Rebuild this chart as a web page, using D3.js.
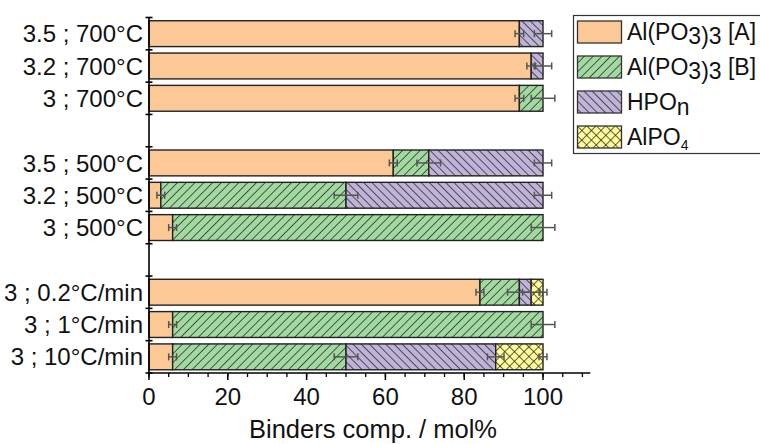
<!DOCTYPE html>
<html><head><meta charset="utf-8">
<script src="https://cdn.jsdelivr.net/npm/d3@7"></script>
<style>
html,body{margin:0;padding:0;background:#fff;}
text{font-family:"Liberation Sans",Arial,sans-serif;fill:#111;}
</style></head>
<body><svg id="c" width="760" height="444"></svg>
<script>
// ---- data ----
const categories = ["3.5 ; 700°C","3.2 ; 700°C","3 ; 700°C","gap1","3.5 ; 500°C","3.2 ; 500°C","3 ; 500°C","gap2","3 ; 0.2°C/min","3 ; 1°C/min","3 ; 10°C/min"];
const seriesNames = ["A","B","H","P"];
const valA = [94, 97, 94, null, 62, 3, 6, null, 84, 6, 6];
const valB = [0, 0, 6, null, 9, 47, 94, null, 10, 94, 44];
const valH = [6, 3, 0, null, 29, 50, 0, null, 3, 0, 38];
const valP = [0, 0, 0, null, 0, 0, 0, null, 3, 0, 12];
const errA = [1.1, 1.1, 1.1, null, 1, 1, 1, null, 1, 1, 1];
const errB = [0, 0, 3, null, 3, 3, 3, null, 3, 3, 3];
const errH = [2.2, 2.2, 0, null, 2.2, 2.2, 0, null, 2.2, 0, 2.1];
const errP = [0, 0, 0, null, 0, 0, 0, null, 1, 0, 1];
const xTicks = [0, 20, 40, 60, 80, 100];
const xMinor = d3.range(0, 111, 5);
const xTitle = "Binders comp. / mol%";

const svg = d3.select("#c");
const x = d3.scaleLinear().domain([0, 112]).range([149, 590.3]);
const y = d3.scaleBand().domain(categories).range([17.5, 373]).paddingInner(0.2).paddingOuter(0.1);
const step = y.step();

const defs = svg.append("defs");
function hatch(id, bg, rot, cross, size){
  const p = defs.append("pattern").attr("id", id).attr("patternUnits","userSpaceOnUse")
    .attr("width", size).attr("height", size).attr("patternTransform", `rotate(${rot})`);
  p.append("rect").attr("width", size).attr("height", size).attr("fill", bg);
  p.append("line").attr("x1",0).attr("y1",0).attr("x2",0).attr("y2",size).attr("stroke","#111").attr("stroke-width",1.3);
  if(cross) p.append("line").attr("x1",0).attr("y1",0).attr("x2",size).attr("y2",0).attr("stroke","#111").attr("stroke-width",1.3);
}
hatch("pB", "#a2d9a0", 45, false, 6.2);
hatch("pH", "#bfb3d8", -45, false, 5.8);
hatch("pP", "#fffb99", 45, true, 6.8);
const fills = {A:"#fbc896", B:"url(#pB)", H:"url(#pH)", P:"url(#pP)"};

const vals = {A:valA, B:valB, H:valH, P:valP};
const errs = {A:errA, B:errB, H:errH, P:errP};

const g = svg.append("g");
categories.forEach((c, i) => {
  if (valA[i] === null) return;
  let cum = 0;
  seriesNames.forEach(s => {
    const v = vals[s][i];
    if (v > 0) {
      g.append("rect").attr("x", x(cum)).attr("y", y(c)).attr("width", x(cum+v)-x(cum)).attr("height", y.bandwidth())
        .attr("fill", fills[s]).attr("stroke", "#222").attr("stroke-width", 1.4);
    }
    cum += v;
  });
});
// error bars
const eg = svg.append("g").attr("stroke","#555").attr("stroke-width",1.5).attr("fill","none");
categories.forEach((c, i) => {
  if (valA[i] === null) return;
  let cum = 0;
  seriesNames.forEach(s => {
    const v = vals[s][i];
    cum += v;
    const e = errs[s][i];
    if (v > 0 && e > 0) {
      const cy = y(c) + y.bandwidth()/2;
      eg.append("line").attr("x1", x(cum-e)).attr("x2", x(cum+e)).attr("y1", cy).attr("y2", cy);
      eg.append("line").attr("x1", x(cum-e)).attr("x2", x(cum-e)).attr("y1", cy-3.5).attr("y2", cy+3.5);
      eg.append("line").attr("x1", x(cum+e)).attr("x2", x(cum+e)).attr("y1", cy-3.5).attr("y2", cy+3.5);
    }
  });
});

// y axis
const ya = svg.append("g").attr("stroke","#000").attr("stroke-width",1.6);
const r = y.range();
ya.append("line").attr("x1", x(0)).attr("x2", x(0)).attr("y1", r[0]).attr("y2", r[1]);
d3.range(0, categories.length + 1).forEach(k => {
  const ty = r[0] + k*step;
  ya.append("line").attr("x1", x(0)-3.5).attr("x2", x(0)+3.5).attr("y1", ty).attr("y2", ty);
});
svg.append("g").selectAll("text").data(categories.filter(c => !c.startsWith("gap"))).join("text")
  .attr("x", 143).attr("y", c => y(c) + y.bandwidth()/2).attr("dy", "0.36em")
  .attr("text-anchor","end").attr("font-size", 24).text(c => c);

// x axis
const xa = svg.append("g").attr("transform", `translate(0,${r[1]})`);
xa.append("line").attr("x1", x.range()[0]).attr("x2", x.range()[1]).attr("stroke","#000").attr("stroke-width",1.6);
xa.selectAll("line.mn").data(xMinor).join("line").attr("class","mn")
  .attr("x1", d=>x(d)).attr("x2", d=>x(d)).attr("y1", 0).attr("y2", 4).attr("stroke","#000").attr("stroke-width",1.3);
xa.selectAll("line.mj").data(xTicks).join("line").attr("class","mj")
  .attr("x1", d=>x(d)).attr("x2", d=>x(d)).attr("y1", 0).attr("y2", 7).attr("stroke","#000").attr("stroke-width",1.5);
xa.selectAll("text").data(xTicks).join("text")
  .attr("x", d=>x(d)).attr("y", 32).attr("text-anchor","middle").attr("font-size", 24).text(d=>d);
svg.append("text").attr("x", 373).attr("y", 437.5).attr("text-anchor","middle").attr("font-size", 25.5).text(xTitle);

// legend
const lg = svg.append("g");
lg.append("rect").attr("x", 573.5).attr("y", 15.5).attr("width", 200).attr("height", 138).attr("fill","#fff").attr("stroke","#333").attr("stroke-width",1.2);
const legY = [21, 56, 91, 126];
seriesNames.forEach((s, i) => {
  lg.append("rect").attr("x", 577.5).attr("y", legY[i]).attr("width", 44).attr("height", 22)
    .attr("fill", fills[s]).attr("stroke","#333").attr("stroke-width",1.3);
});
function legText(i, parts){
  const t = lg.append("text").attr("x", 627).attr("y", legY[i] + 19).attr("font-size", 23);
  parts.forEach(p => {
    t.append("tspan").attr("dy", p.dy || 0).attr("font-size", p.fs || null).text(p.t);
  });
}
legText(0, [{t:"Al(PO"},{t:"3)3",dy:3.5},{t:" [A]",dy:-3.5}]);
legText(1, [{t:"Al(PO"},{t:"3)3",dy:3.5},{t:" [B]",dy:-3.5}]);
legText(2, [{t:"HPO"},{t:"n",dy:5}]);
legText(3, [{t:"AlPO"},{t:"4",dy:5,fs:14}]);
</script></body></html>
